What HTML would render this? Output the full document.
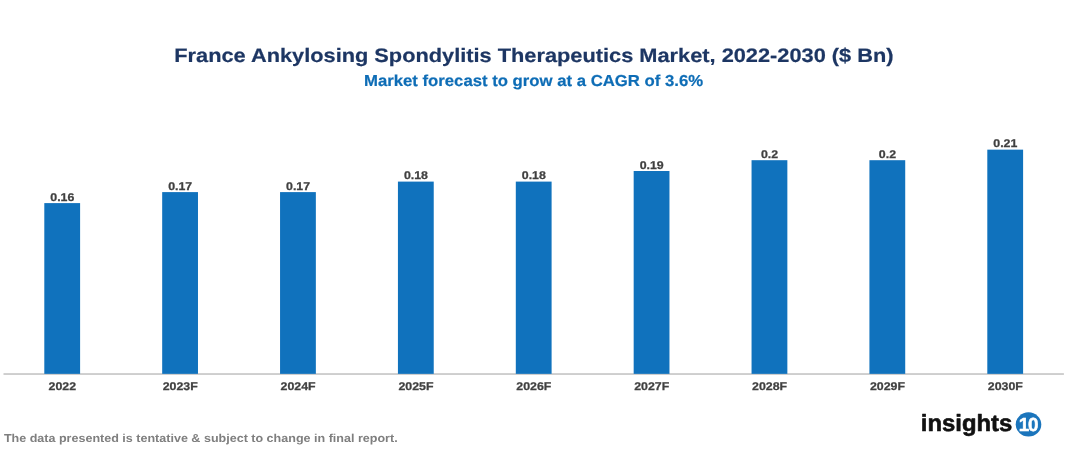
<!DOCTYPE html>
<html lang="en">
<head>
<meta charset="utf-8">
<title>France Ankylosing Spondylitis Therapeutics Market, 2022-2030 ($ Bn)</title>
<style>
html,body{margin:0;padding:0;background:#fff;}
body{width:1067px;height:454px;overflow:hidden;}
svg{display:block;position:absolute;left:0;top:0;}
text{font-family:"Liberation Sans","DejaVu Sans",sans-serif;font-weight:bold;text-rendering:geometricPrecision;}
.m{text-anchor:middle;}
</style>
</head>
<body>
<svg width="1067" height="454" viewBox="0 0 1067 454" role="img" aria-label="France Ankylosing Spondylitis Therapeutics Market, 2022-2030 ($ Bn)">
<rect x="0" y="0" width="1067" height="454" fill="#ffffff"/>
<text class="m" transform="translate(533.9 62) scale(1.1203 1)" font-size="19.45" fill="#1d3663" stroke="#1d3663" stroke-width="0.2">France Ankylosing Spondylitis Therapeutics Market, 2022-2030 ($ Bn)</text>
<text class="m" transform="translate(533.5 86) scale(1.0552 1)" font-size="15.85" fill="#0e6db6" stroke="#0e6db6" stroke-width="0.2">Market forecast to grow at a CAGR of 3.6%</text>
<rect x="3.5" y="373.3" width="1060.4" height="1.45" fill="#bebebe"/>
<g fill="#1072bd">
<rect x="44.3" y="203.1" width="35.8" height="170.75"/>
<rect x="162.18" y="192.1" width="35.8" height="181.75"/>
<rect x="280.05" y="192.1" width="35.8" height="181.75"/>
<rect x="397.93" y="181.6" width="35.8" height="192.25"/>
<rect x="515.8" y="181.6" width="35.8" height="192.25"/>
<rect x="633.67" y="171.0" width="35.8" height="202.85"/>
<rect x="751.55" y="160.2" width="35.8" height="213.65"/>
<rect x="869.42" y="160.2" width="35.8" height="213.65"/>
<rect x="987.3" y="149.65" width="35.8" height="224.2"/>
</g>
<g class="m" font-size="11.2" fill="#404040" stroke="#404040" stroke-width="0.25">
<text transform="translate(62.3 201) scale(1.105 1)">0.16</text>
<text transform="translate(180.18 190) scale(1.105 1)">0.17</text>
<text transform="translate(298.05 190) scale(1.105 1)">0.17</text>
<text transform="translate(415.93 179) scale(1.105 1)">0.18</text>
<text transform="translate(533.8 179) scale(1.105 1)">0.18</text>
<text transform="translate(651.67 169) scale(1.105 1)">0.19</text>
<text transform="translate(769.55 158) scale(1.105 1)">0.2</text>
<text transform="translate(887.42 158) scale(1.105 1)">0.2</text>
<text transform="translate(1005.3 147) scale(1.105 1)">0.21</text>
</g>
<g class="m" font-size="11.2" fill="#404040" stroke="#404040" stroke-width="0.25">
<text transform="translate(62.3 390) scale(1.105 1)">2022</text>
<text transform="translate(180.18 390) scale(1.105 1)">2023F</text>
<text transform="translate(298.05 390) scale(1.105 1)">2024F</text>
<text transform="translate(415.93 390) scale(1.105 1)">2025F</text>
<text transform="translate(533.8 390) scale(1.105 1)">2026F</text>
<text transform="translate(651.67 390) scale(1.105 1)">2027F</text>
<text transform="translate(769.55 390) scale(1.105 1)">2028F</text>
<text transform="translate(887.42 390) scale(1.105 1)">2029F</text>
<text transform="translate(1005.3 390) scale(1.105 1)">2030F</text>
</g>
<text transform="translate(3.9 442) scale(1.0905 1)" font-size="11.5" fill="#7f7f7f">The data presented is tentative &amp; subject to change in final report.</text>
<text transform="translate(920.8 431) scale(1.02 1)" font-size="23.4" fill="#111" stroke="#111" stroke-width="0.6" stroke-linejoin="round">insights</text>
<ellipse cx="1028.5" cy="424.45" rx="12.8" ry="12.1" fill="#1b75bc"/>
<text class="m" transform="translate(1027.9 431) scale(1.0 1)" font-size="18.9" fill="#fff" stroke="#fff" stroke-width="0.5" stroke-linejoin="round" letter-spacing="-1.3">10</text>
</svg>
</body>
</html>
